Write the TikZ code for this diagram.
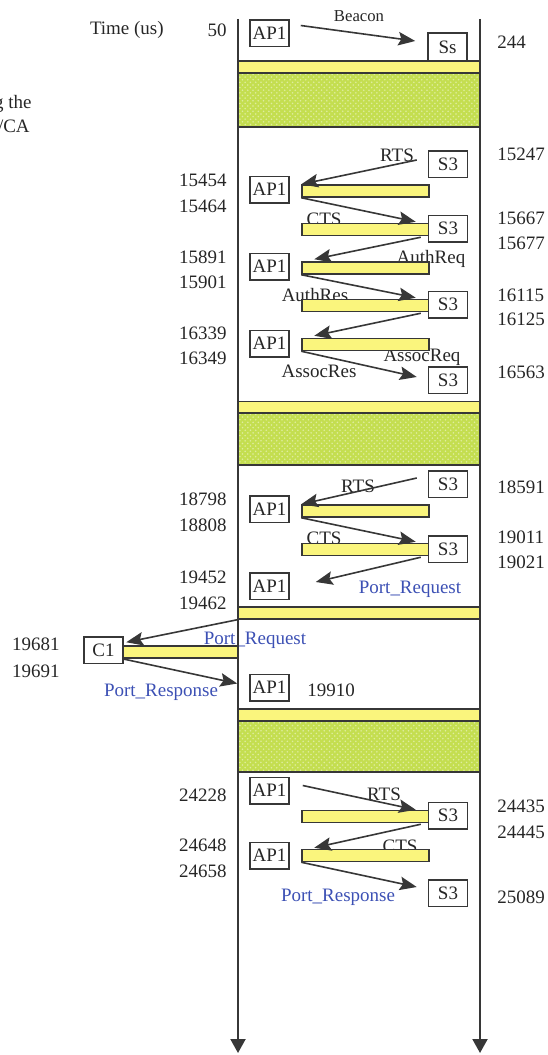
\documentclass[tikz,border=0pt]{standalone}
\usepackage{fontspec}
\setmainfont{Liberation Serif}
\usetikzlibrary{arrows.meta, positioning, calc, patterns}
\definecolor{barfill}{RGB}{250,245,125}
\definecolor{idlefill}{RGB}{196,222,80}
\definecolor{linegray}{RGB}{55,55,55}
\definecolor{portblue}{RGB}{60,80,180}

\begin{document}
\begin{tikzpicture}[x=0.2mm, y=-0.2mm, font=\fontsize{10.8}{13}\selectfont, text=black!85,
        station/.style={draw=linegray, line width=0.3mm, fill=white, inner sep=0pt, minimum width=7.8mm, minimum height=5.3mm},
        busy/.style={draw=linegray, line width=0.3mm, fill=barfill, inner sep=0pt, minimum width=25.4mm, minimum height=2.4mm},
        wide/.style={busy, minimum width=48.4mm},
        idle/.style={draw=linegray, line width=0.3mm, inner sep=0pt, minimum width=48.4mm,
            preaction={fill=idlefill}, preaction={pattern=crosshatch dots, pattern color=white!45!idlefill}},
        msg/.style={-{Stealth[length=3.4mm, width=2.7mm, inset=0.6mm]}, line width=0.32mm, draw=linegray},
        life/.style={-{Triangle[length=2.8mm, width=3mm]}, line width=0.4mm, draw=linegray},
        lnum/.style={anchor=east, inner sep=0pt},
        rnum/.style={anchor=west, inner sep=0pt},
        lbl/.style={inner sep=0pt},
        port/.style={inner sep=0pt, text=portblue}]

        \useasboundingbox (0,0) rectangle (547,1055);

        % caption cut at the left border
        \node[lnum] (capa) at (32,104) {g the};
        \node[lnum] (capb) at (30,126) {/CA};

        % lifelines
        \coordinate (ltop) at (238,19);
        \coordinate (lbot) at (238,1053);
        \coordinate (rtop) at (480,19);
        \coordinate (rbot) at (480,1053);
        \draw[life] (ltop) -- (lbot);
        \draw[life] (rtop) -- (rbot);

        % time stamps
        \node[lnum] (time) at (164,30) {Time (us)};
        \foreach \t/\y in {50/30, 15454/180, 15464/206, 15891/257, 15901/282, 16339/333, 16349/358,
                18798/499, 18808/525, 19452/577, 19462/603, 24228/795, 24648/845, 24658/871}
            \node[lnum] (n\t) at (227,\y) {\t};
        \foreach \t/\y in {19681/644, 19691/671}
            \node[lnum] (n\t) at (60,\y) {\t};
        \foreach \t/\y in {244/42, 15247/154, 15667/218, 15677/243, 16115/295, 16125/319, 16563/372,
                18591/487, 19011/537, 19021/562, 24435/806, 24445/832, 25089/897}
            \node[rnum] (n\t) at (497,\y) {\t};
        \node[rnum] (n19910) at (307,690) {19910};

        % message labels
        \node[lbl, font=\fontsize{9.5}{11}\selectfont] (beacon) at (359,16) {Beacon};
        \node[lbl] (rtsa) at (397,155) {RTS};
        \node[lbl] (ctsa) at (324,219) {CTS};
        \node[lbl] (authreq) at (431,259) {AuthReq};
        \node[lbl] (authres) at (315,295) {AuthRes};
        \node[lbl] (assocreq) at (422,357) {AssocReq};
        \node[lbl] (assocres) at (319,371) {AssocRes};
        \node[lbl] (rtsb) at (358,486) {RTS};
        \node[lbl] (ctsb) at (324,538) {CTS};
        \node[port] (preqa) at (410,589) {Port\_Request};
        \node[port] (preqb) at (255,640) {Port\_Request};
        \node[port] (presa) at (161,692) {Port\_Response};
        \node[lbl] (rtsc) at (384,794) {RTS};
        \node[lbl] (ctsc) at (400,846) {CTS};
        \node[port] (presb) at (338,897) {Port\_Response};

        % medium busy / idle
        \node[wide] (fulla) at (359,67) {};
        \node[idle, minimum height=10.8mm] (idlea) at (359,100) {};
        \node[wide] (fullb) at (359,407.5) {};
        \node[idle, minimum height=10.4mm] (idleb) at (359,439) {};
        \node[wide] (fullc) at (359,613) {};
        \node[wide] (fulld) at (359,715) {};
        \node[idle, minimum height=10.2mm] (idlec) at (359,746.5) {};

        % NAV bars
        \node[busy] (bara) at (365.5,191) {};
        \node[busy] (barb) at (365.5,229.5) {};
        \node[busy] (barc) at (365.5,268) {};
        \node[busy] (bard) at (365.5,305.5) {};
        \node[busy] (bare) at (365.5,344.5) {};
        \node[busy] (barf) at (365.5,511) {};
        \node[busy] (barg) at (365.5,549.5) {};
        \node[busy, minimum width=23mm] (barc1) at (180.5,652) {};
        \node[busy] (barh) at (365.5,816.5) {};
        \node[busy] (bari) at (365.5,855.5) {};

        % stations
        \node[station] (apa) at (269.5,33.5) {AP1};
        \node[station, minimum height=5.6mm] (ss) at (447.5,47) {Ss};
        \node[station] (s3a) at (448,164) {S3};
        \node[station] (apb) at (269.5,189.5) {AP1};
        \node[station] (s3b) at (448,228.5) {S3};
        \node[station] (apc) at (269.5,266.5) {AP1};
        \node[station] (s3c) at (448,304.5) {S3};
        \node[station] (apd) at (269.5,343.5) {AP1};
        \node[station] (s3d) at (448,380) {S3};
        \node[station] (s3e) at (448,484) {S3};
        \node[station] (ape) at (269.5,509) {AP1};
        \node[station] (s3f) at (448,549) {S3};
        \node[station] (apf) at (269.5,586) {AP1};
        \node[station] (c1) at (103.5,650) {C1};
        \node[station] (apg) at (269.5,687.5) {AP1};
        \node[station] (aph) at (269.5,790.5) {AP1};
        \node[station] (s3g) at (448,815.5) {S3};
        \node[station] (api) at (269.5,855.5) {AP1};
        \node[station] (s3h) at (448,893) {S3};

        % messages
        \draw[msg] ($(apa.east)+(11,-8)$) -- ($(ss.west)+(-12,-6)$);
        \draw[msg] ($(s3a.west)+(-11,-4)$) -- (bara.north west);
        \draw[msg] (bara.south west) -- ($(barb.north east)+(-14,-1)$);
        \draw[msg] ($(barb.south east)+(-9,1)$) -- ($(barc.north west)+(13,-2)$);
        \draw[msg] (barc.south west) -- ($(bard.north east)+(-14,-1)$);
        \draw[msg] ($(bard.south east)+(-9,1)$) -- ($(bare.north west)+(13,-2)$);
        \draw[msg] (bare.south west) -- ($(s3d.west)+(-11,-3)$);
        \draw[msg] ($(s3e.west)+(-11,-6)$) -- (barf.north west);
        \draw[msg] (barf.south west) -- ($(barg.north east)+(-14,-1)$);
        \draw[msg] ($(barg.south east)+(-9,1)$) -- ($(apf.east)+(26,-4)$);
        \draw[msg] (fullc.south west) -- ($(barc1.north west)+(4,-3)$);
        \draw[msg] (barc1.south west) -- ($(apg.west)+(-12,-4)$);
        \draw[msg] ($(aph.east)+(13,-5)$) -- ($(barh.north east)+(-14,0)$);
        \draw[msg] ($(barh.south east)+(-9,1)$) -- ($(bari.north west)+(13,-1)$);
        \draw[msg] (bari.south west) -- ($(s3h.west)+(-11,-6)$);
\end{tikzpicture}
\end{document}
